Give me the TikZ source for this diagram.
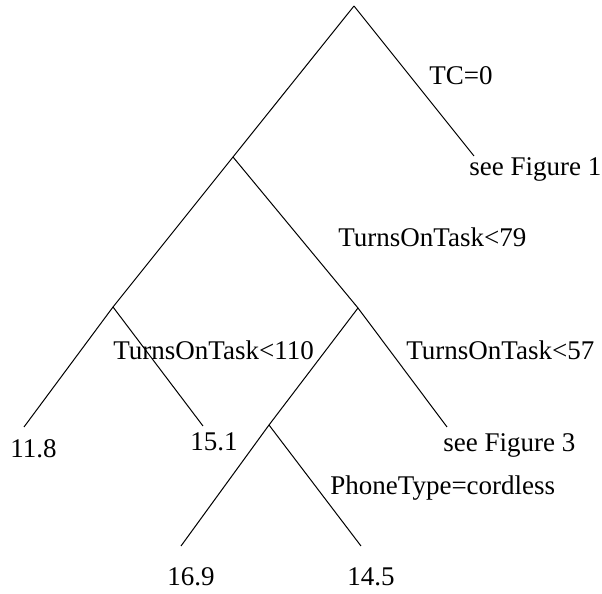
\documentclass[tikz,border=0pt]{standalone}
\usepackage{fontspec}
\setmainfont{Liberation Serif}
\usepackage{tikz}
\usetikzlibrary{positioning}
\tikzset{
	branch/.style={draw, line width=0.5pt},
	split/.style={anchor=base west, inner sep=0pt, font=\fontsize{13.5}{16}\selectfont},
	leaf/.style={split}
}

\begin{document}
\begin{tikzpicture}[x=0.5pt, y=-0.5pt]
			\useasboundingbox (0,0) rectangle (602,594);
			
			% Split points
			\coordinate (root) at (354,6);
			\coordinate (N-1) at (233,157);
			\coordinate (N-2) at (113,307);
			\coordinate (N-3) at (358,308);
			\coordinate (N-4) at (269,425);
			
			% Leaf ends
			\coordinate (L-1) at (474,156);
			\coordinate (L-2) at (24,427);
			\coordinate (L-3) at (203,426);
			\coordinate (L-4) at (447,427);
			\coordinate (L-5) at (181,546);
			\coordinate (L-6) at (361,546);
			
			% Split labels
			\node[split] (S-1) at (429,84) {TC=0};
			\node[split] (S-2) at (338,247) {TurnsOnTask<79};
			\node[split] (S-3) at (113,360) {TurnsOnTask<110};
			\node[split] (S-4) at (406,360) {TurnsOnTask<57};
			\node[split] (S-5) at (330,495) {PhoneType=cordless};
			
			% Leaf labels
			\node[leaf] (V-1) at (469,176) {see Figure 1};
			\node[leaf] (V-2) at (10,458) {11.8};
			\node[leaf] (V-3) at (190,451) {15.1};
			\node[leaf] (V-4) at (443,452) {see Figure 3};
			\node[leaf] (V-5) at (167,586) {16.9};
			\node[leaf] (V-6) at (347,586) {14.5};
			
			% Branches
			\foreach \a/\b in {root/N-1, root/L-1, N-1/N-2, N-1/N-3, N-2/L-2,
				N-2/L-3, N-3/N-4, N-3/L-4, N-4/L-5, N-4/L-6}
			\draw[branch] (\a) -- (\b);
		\end{tikzpicture}
\end{document}
